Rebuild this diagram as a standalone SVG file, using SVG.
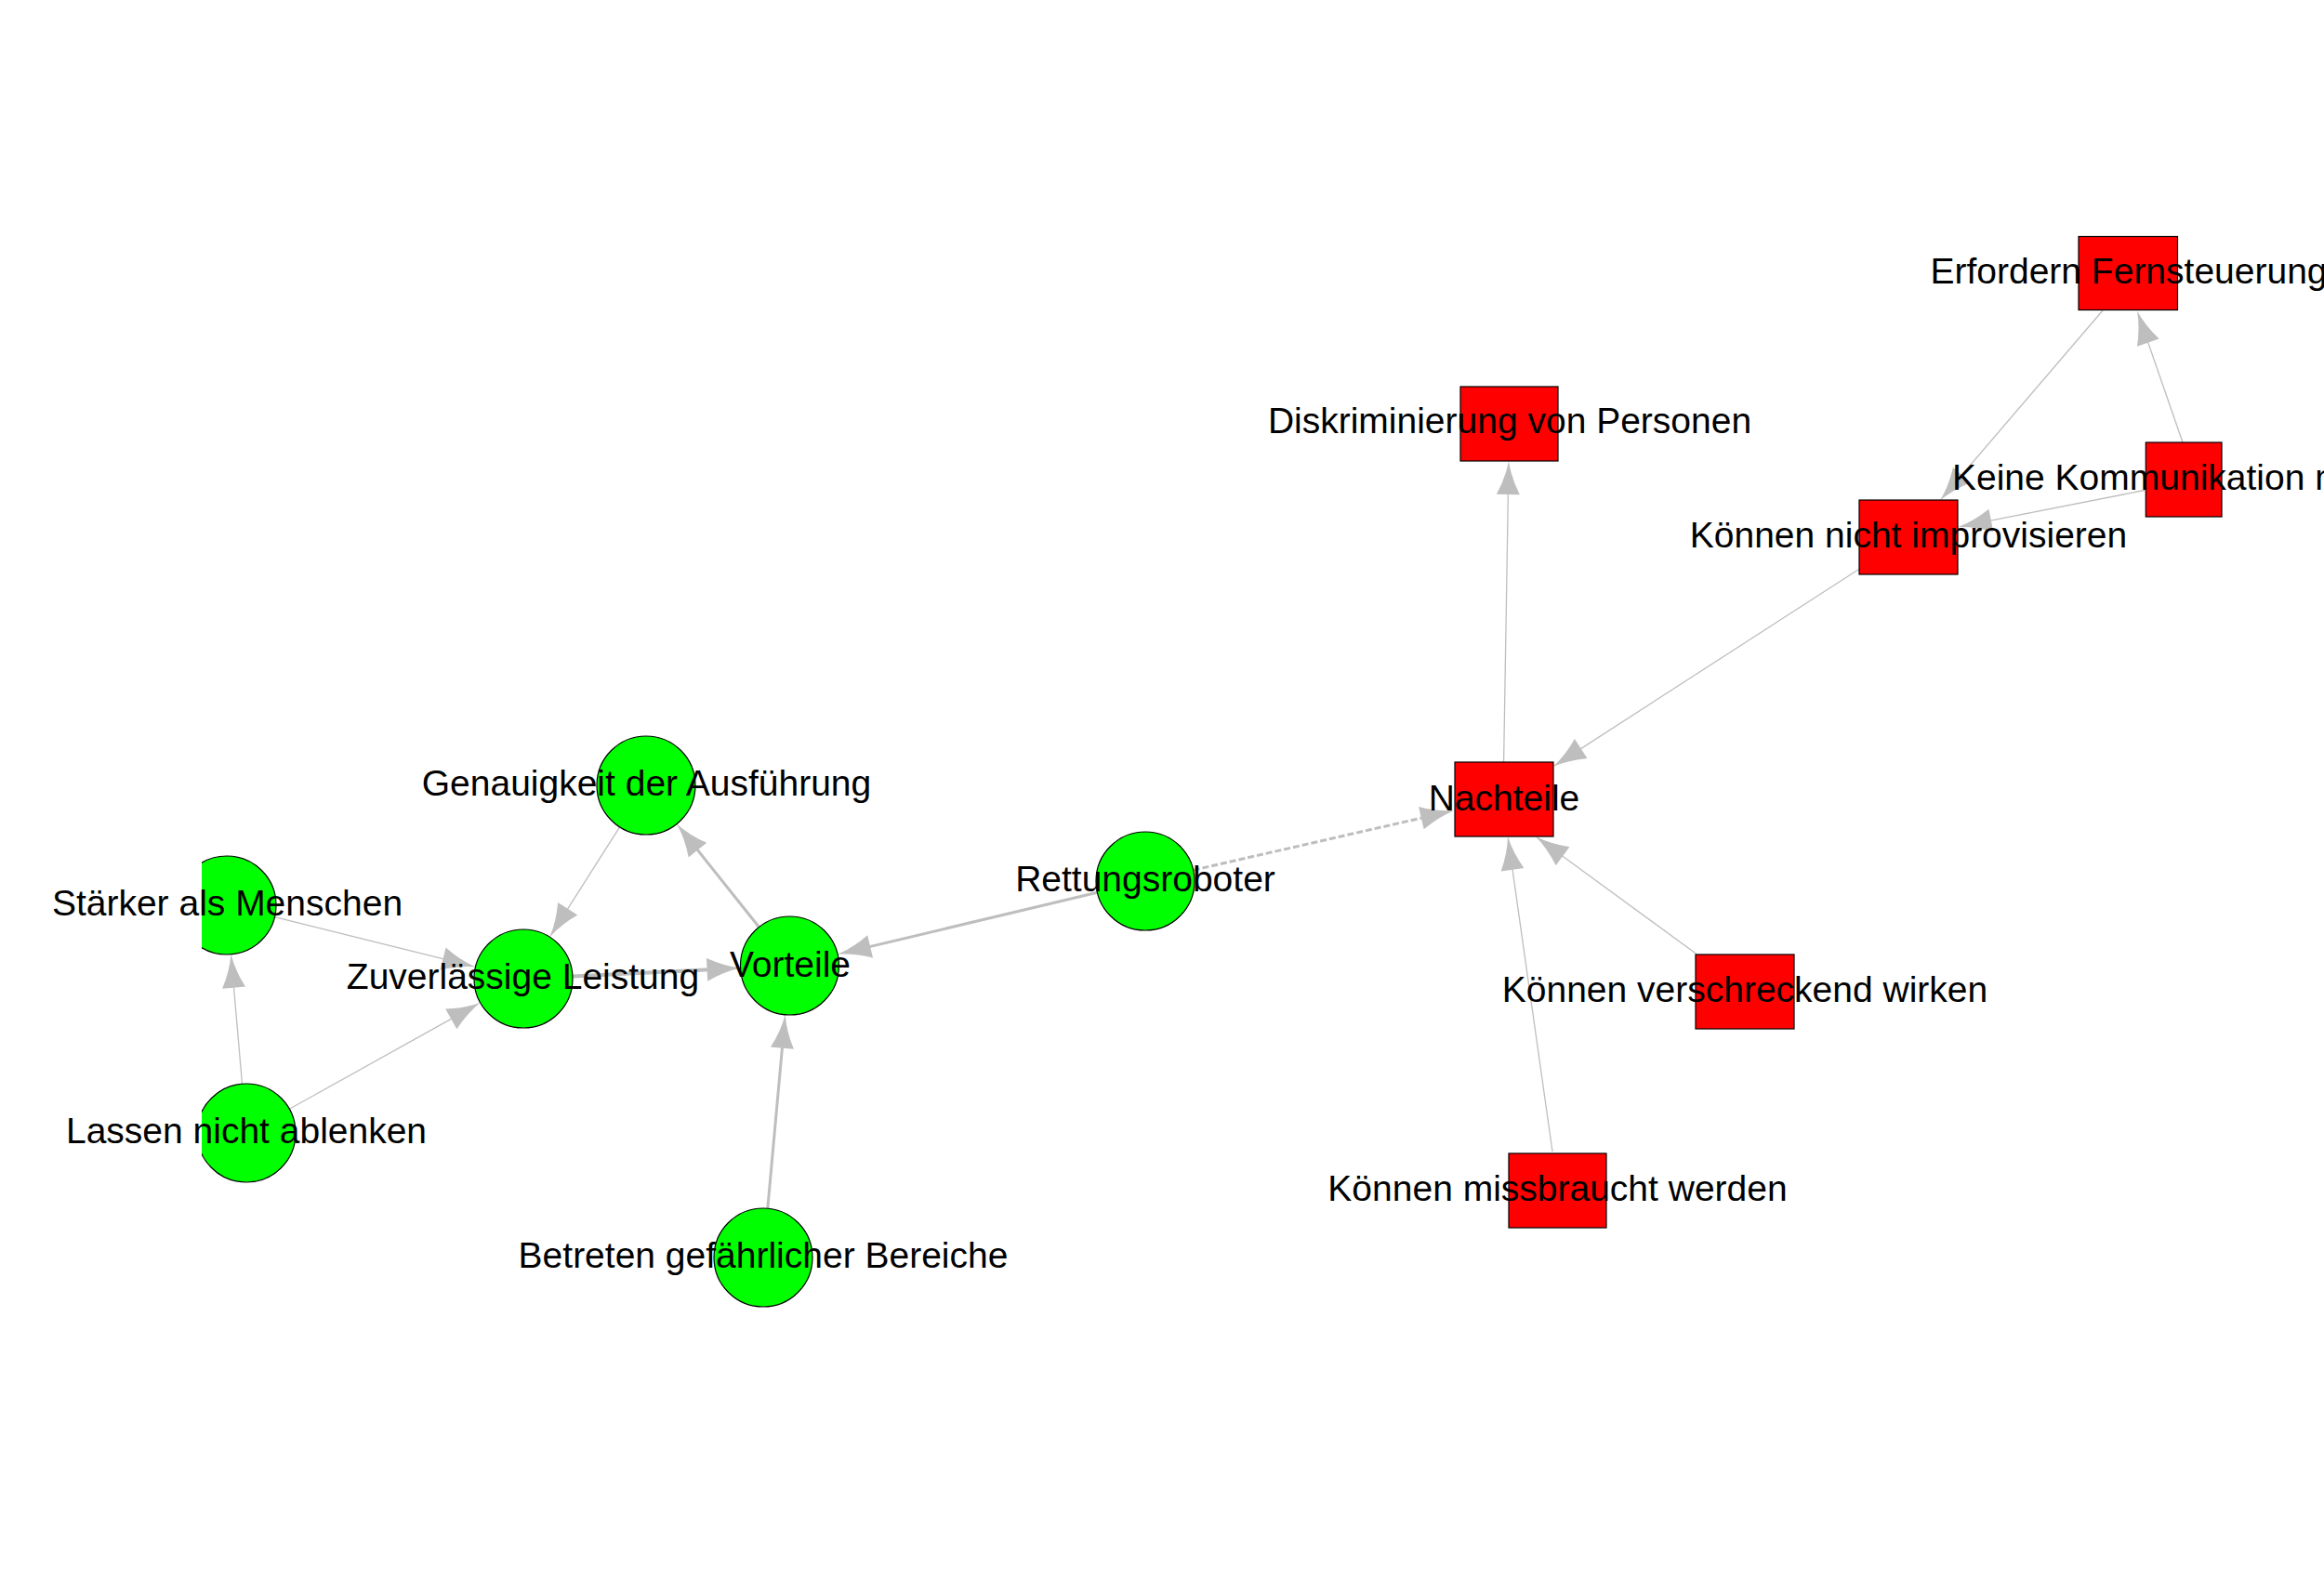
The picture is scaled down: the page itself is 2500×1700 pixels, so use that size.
<svg xmlns="http://www.w3.org/2000/svg" width="2500" height="1700" viewBox="0 0 2500 1700">
<style>
.e{fill:none;stroke:#BEBEBE;stroke-width:1.3;marker-end:url(#ah)}
.t{stroke-width:3}
.w{stroke-width:4}
.d{stroke-width:3;stroke-dasharray:7 3}
.g{fill:#00FF00;stroke:#000;stroke-width:1.2}
.r{fill:#FF0000;stroke:#000;stroke-width:1.2}
text{font-family:"Liberation Sans",Arial,sans-serif;font-size:39px;fill:#000;text-anchor:middle}
</style>
<defs>
<marker id="ah" viewBox="-40 -16 42 32" markerWidth="42" markerHeight="32" markerUnits="userSpaceOnUse" refX="-33" refY="0" orient="auto">
<path d="M0,0 Q-18,-3 -36,-12.5 L-36,12.5 Q-18,3 0,0 Z" fill="#BEBEBE"/>
</marker>
<clipPath id="clipL"><rect x="217" y="0" width="2283" height="1700"/></clipPath>
</defs>
<rect x="0" y="0" width="2500" height="1700" fill="#FFFFFF"/>
<g id="edges">
<line class="e t" x1="1180.4" y1="960.3" x2="933.2" y2="1019.1"/>
<line class="e d" x1="1283.7" y1="936.2" x2="1531.8" y2="879.5"/>
<line class="e t" x1="816.5" y1="997.5" x2="748.6" y2="912.3"/>
<line class="e" x1="666.6" y1="889.8" x2="609.1" y2="980.3"/>
<line class="e w" x1="615.9" y1="1050.4" x2="763.6" y2="1043.2"/>
<line class="e" x1="295.5" y1="986.7" x2="479.5" y2="1032.4"/>
<line class="e" x1="260.5" y1="1166.2" x2="251.3" y2="1059.7"/>
<line class="e" x1="311.3" y1="1193.2" x2="487.9" y2="1094.9"/>
<line class="e t" x1="825.8" y1="1300.2" x2="841.7" y2="1124.7"/>
<line class="e" x1="1617.6" y1="820" x2="1622.4" y2="529"/>
<line class="e" x1="2000" y1="612.3" x2="1698.2" y2="807.1"/>
<line class="e" x1="2262" y1="334" x2="2108.5" y2="513.3"/>
<line class="e" x1="2348" y1="476" x2="2309.8" y2="365.7"/>
<line class="e" x1="2307" y1="527.5" x2="2138.9" y2="560.6"/>
<line class="e" x1="1825" y1="1026.5" x2="1678.6" y2="919.5"/>
<line class="e" x1="1670" y1="1239" x2="1626.6" y2="932.7"/>
</g>
<g id="node-rettungsroboter"><circle class="g" cx="1232" cy="948" r="53"/><text x="1232" y="959">Rettungsroboter</text></g>
<g id="node-vorteile"><circle class="g" cx="849.5" cy="1039" r="53"/><text x="850" y="1051">Vorteile</text></g>
<g id="node-genauigkeit"><circle class="g" cx="695" cy="845" r="53"/><text x="695.5" y="856">Genauigkeit der Ausführung</text></g>
<g id="node-zuverlaessig"><circle class="g" cx="563" cy="1053" r="53"/><text x="562.5" y="1064">Zuverlässige Leistung</text></g>
<g id="node-staerker"><circle class="g" cx="244" cy="974" r="53" clip-path="url(#clipL)"/><text x="244.5" y="985">Stärker als Menschen</text></g>
<g id="node-lassen"><circle class="g" cx="265" cy="1219" r="53" clip-path="url(#clipL)"/><text x="265" y="1230">Lassen nicht ablenken</text></g>
<g id="node-betreten"><circle class="g" cx="821" cy="1353" r="53"/><text x="821" y="1364">Betreten gefährlicher Bereiche</text></g>
<g id="node-nachteile"><rect class="r" x="1565" y="820" width="106" height="80"/><text x="1618" y="872">Nachteile</text></g>
<g id="node-diskriminierung"><rect class="r" x="1571" y="416" width="105" height="80"/><text x="1624" y="466">Diskriminierung von Personen</text></g>
<g id="node-erfordern"><rect class="r" x="2236" y="254.5" width="106.5" height="79"/><text x="2290" y="305">Erfordern Fernsteuerung</text></g>
<g id="node-improvisieren"><rect class="r" x="2000" y="538" width="106" height="80"/><text x="2053" y="589">Können nicht improvisieren</text></g>
<g id="node-keine"><rect class="r" x="2308.3" y="476" width="81.7" height="80"/><text x="2100" y="527" style="text-anchor:start">Keine Kommunikation m</text></g>
<g id="node-verschreckend"><rect class="r" x="1824" y="1027" width="106" height="80"/><text x="1877" y="1078">Können verschreckend wirken</text></g>
<g id="node-missbraucht"><rect class="r" x="1623" y="1241" width="105" height="80"/><text x="1675.5" y="1292">Können missbraucht werden</text></g>
</svg>
